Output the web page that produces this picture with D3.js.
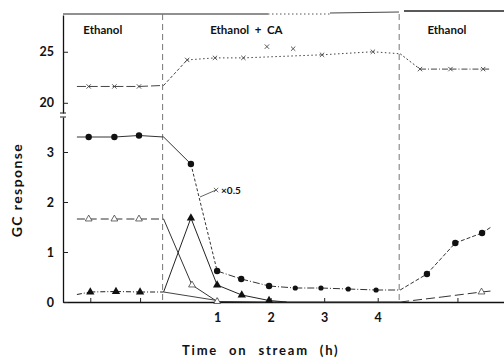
<!DOCTYPE html>
<html>
<head>
<meta charset="utf-8">
<script src="https://cdn.jsdelivr.net/npm/d3@7"></script>
<style>
  body { margin: 0; background: #fff; }
  svg { display: block; }
  .tick text { font-family: Lato, "Liberation Sans", sans-serif; font-size: 12.5px; font-weight: bold; }
  .lbl { font-family: Lato, "Liberation Sans", sans-serif; font-weight: bold; fill: #111; white-space: pre; }
</style>
</head>
<body>
<div id="chart"></div>
<script>
// phase change times (dashed lines), h
var switchT = [0, 4.42];
var phaseNames = ["Ethanol", "Ethanol  +  CA", "Ethanol"];
var phaseLabelT = [-1.5, 0.87, 4.93];

// upper series (x marks), read on the 20-25 part of the axis
var upperT = [-1.62, -1.40, -0.92, -0.46, 0, 0.44, 0.96, 1.49, 2.96, 3.91, 4.42, 4.79, 5.36, 5.97, 6.12];
var upperV = [21.6, 21.6, 21.6, 21.6, 21.7, 24.2, 24.4, 24.4, 24.7, 25.0, 24.8, 23.3, 23.3, 23.3, 23.3];
var upperMarks = [1, 2, 3, 5, 6, 7, 8, 9, 11, 12, 13];
var upperExtraT = [1.93, 2.42];
var upperExtraV = [25.5, 25.3];

// filled circles
var circleT = [-1.62, -1.40, -0.92, -0.46, 0, 0.51, 1.0, 1.45, 1.97, 2.46, 2.94, 3.45, 3.97, 4.42, 4.92, 5.45, 5.95, 6.12];
var circleV = [3.3, 3.3, 3.3, 3.33, 3.3, 2.76, 0.62, 0.46, 0.32, 0.28, 0.28, 0.26, 0.24, 0.24, 0.56, 1.18, 1.38, 1.5];
var circleMarks = [1, 2, 3, 5, 6, 7, 8, 9, 10, 11, 12, 14, 15, 16];

// open triangles
var openTriT = [-1.62, -1.40, -0.92, -0.46, 0, 0.53, 1.0, 2.0, 4.42, 5.2, 5.94, 6.12];
var openTriV = [1.66, 1.66, 1.66, 1.66, 1.66, 0.34, 0.01, 0, 0, 0.1, 0.2, 0.22];
var openTriMarks = [1, 2, 3, 5, 6, 10];

// filled triangles
var fillTriT = [-1.62, -1.37, -0.89, -0.44, 0, 0.51, 1.0, 1.46, 1.97, 2.3];
var fillTriV = [0.15, 0.2, 0.21, 0.2, 0.2, 1.68, 0.34, 0.14, 0.03, 0];
var fillTriMarks = [1, 2, 3, 5, 6, 7, 8];

// faint drift line under the triangles
var driftT = [0, 1.0];
var driftV = [0.2, 0.03];

// "x0.5" note
var noteT = [0.68, 0.98];
var noteV = [2.1, 2.24];

var xTicks = [1, 2, 3, 4];
var xMinorTicks = [-1.37, -0.44, 5.49];
var yLowTicks = [0, 1, 2, 3];
var yHighTicks = [20, 25];

var svgWidth = 504, svgHeight = 361;

var svg = d3.select("#chart").append("svg")
  .attr("width", svgWidth)
  .attr("height", svgHeight);

var x = d3.scaleLinear().domain([-1.88, 6.36]).range([63, 504]);
var yLow = d3.scaleLinear().domain([0, 3.7]).range([302, 117]);
var yHigh = d3.scaleLinear().domain([19, 28.6]).range([113, 15]);

function pts(T, V) { return T.map(function(t, i) { return [t, V[i]]; }); }

// frame top
svg.append("line").attr("x1", 63).attr("x2", 268).attr("y1", 14).attr("y2", 14)
  .attr("stroke", "#222").attr("stroke-width", 1.2);
svg.append("line").attr("x1", 268).attr("x2", 330).attr("y1", 14).attr("y2", 14)
  .attr("stroke", "#555").attr("stroke-width", 1).attr("stroke-dasharray", "1.5,2.5");
svg.append("line").attr("x1", 330).attr("x2", 399).attr("y1", 13).attr("y2", 12)
  .attr("stroke", "#444").attr("stroke-width", 1);
svg.append("line").attr("x1", 404).attr("x2", 504).attr("y1", 11).attr("y2", 11)
  .attr("stroke", "#222").attr("stroke-width", 1.4);

// dashed phase lines
svg.selectAll(".phase").data(switchT).enter().append("line")
  .attr("x1", d => x(d) - 1).attr("x2", d => x(d) - 1)
  .attr("y1", 14).attr("y2", 302)
  .attr("stroke", "#777").attr("stroke-width", 1)
  .attr("stroke-dasharray", "6,4");

// axes
var xAxis = d3.axisBottom(x)
  .tickValues(xTicks.concat(xMinorTicks))
  .tickFormat(d => xTicks.indexOf(d) >= 0 ? String(d) : "")
  .tickSizeInner(-4).tickSizeOuter(0).tickPadding(11);
var gx = svg.append("g").attr("transform", "translate(0,302)").call(xAxis);
gx.select(".domain").attr("stroke", "#111").attr("stroke-width", 1.4);

var yAxisLow = d3.axisLeft(yLow).tickValues(yLowTicks).tickFormat(d3.format("d"))
  .tickSizeInner(-5).tickSizeOuter(0).tickPadding(9);
var gyl = svg.append("g").attr("transform", "translate(63,0)").call(yAxisLow);
var yAxisHigh = d3.axisLeft(yHigh).tickValues(yHighTicks).tickFormat(d3.format("d"))
  .tickSizeInner(-5).tickSizeOuter(0).tickPadding(9);
var gyh = svg.append("g").attr("transform", "translate(63,0)").call(yAxisHigh);
gyl.select(".domain").attr("stroke", "#111").attr("stroke-width", 1.3);
gyh.select(".domain").attr("stroke", "#111").attr("stroke-width", 1.3);
svg.selectAll(".tick line").attr("stroke", "#222");
svg.selectAll(".tick text").attr("fill", "#111");

// break marks
svg.append("line").attr("x1", 60).attr("x2", 66).attr("y1", 113).attr("y2", 113).attr("stroke", "#222");
svg.append("line").attr("x1", 60).attr("x2", 66).attr("y1", 117).attr("y2", 117).attr("stroke", "#222");

// line drawing, one segment at a time so each part can get its own dash
function drawSeries(P, y, dashFor, color) {
  for (var i = 0; i < P.length - 1; i++) {
    svg.append("line")
      .attr("x1", x(P[i][0])).attr("y1", y(P[i][1]))
      .attr("x2", x(P[i + 1][0])).attr("y2", y(P[i + 1][1]))
      .attr("stroke", color).attr("stroke-width", 1)
      .attr("stroke-dasharray", dashFor(i, P[i][0]));
  }
}

var upper = pts(upperT, upperV);
drawSeries(upper, yHigh, function(i, t) {
  if (t < 0) return "9,3";
  if (t < 0.4) return "3,2";
  if (t < 4.4) return "1.5,2.5";
  if (t < 4.7) return "2,2";
  return "6,2,1,2";
}, "#444");

var circ = pts(circleT, circleV);
drawSeries(circ, yLow, function(i, t) {
  if (t < 0.5) return null;
  if (t < 0.9) return "3,2";
  if (t < 4.4) return "7,2,1,2";
  return "4,2";
}, "#333");

var otri = pts(openTriT, openTriV);
drawSeries(otri, yLow, function(i, t) {
  if (t < 0) return "8,4";
  if (t < 4.4) return null;
  return "9,4";
}, "#333");

var ftri = pts(fillTriT, fillTriV);
drawSeries(ftri, yLow, function(i, t) {
  if (t < 0) return "5,2,1,2";
  return null;
}, "#222");

drawSeries(pts(driftT, driftV), yLow, function() { return null; }, "#444");

// note "x0.5"
drawSeries(pts(noteT, noteV), yLow, function() { return null; }, "#666");

// markers
var cross = d3.symbol().type(d3.symbolX).size(14);
svg.selectAll(".upm").data(upperMarks.map(i => upper[i]).concat(pts(upperExtraT, upperExtraV)))
  .enter().append("path")
  .attr("d", cross)
  .attr("transform", d => `translate(${x(d[0])},${yHigh(d[1])})`)
  .attr("fill", "none").attr("stroke", "#444").attr("stroke-width", 0.9);

svg.append("path").attr("d", cross)
  .attr("transform", `translate(${x(noteT[1])},${yLow(noteV[1])})`)
  .attr("fill", "none").attr("stroke", "#555").attr("stroke-width", 0.9);
svg.append("text").attr("class", "lbl")
  .attr("x", x(noteT[1]) + 5).attr("y", yLow(noteV[1]) + 4)
  .attr("font-size", 10).attr("font-weight", "normal").attr("fill", "#888")
  .text("\u00d70.5");

svg.selectAll(".cm").data(circleMarks.map(i => circ[i]))
  .enter().append("circle")
  .attr("cx", d => x(d[0])).attr("cy", d => yLow(d[1]))
  .attr("r", d => d[0] > 2.2 && d[0] < 4.4 ? 2.6 : 3.2)
  .attr("fill", "#111");

var tri = d3.symbol().type(d3.symbolTriangle);
svg.selectAll(".ftm").data(fillTriMarks.map(i => ftri[i]))
  .enter().append("path")
  .attr("d", tri.size(30))
  .attr("transform", d => `translate(${x(d[0])},${yLow(d[1])})`)
  .attr("fill", "#111");

svg.selectAll(".otm").data(openTriMarks.map(i => otri[i]))
  .enter().append("path")
  .attr("d", d3.symbol().type(d3.symbolTriangle).size(20))
  .attr("transform", d => `translate(${x(d[0])},${yLow(d[1])})`)
  .attr("fill", "#fff").attr("stroke", "#444").attr("stroke-width", 0.8);

// phase labels
svg.selectAll(".ph").data(phaseNames).enter().append("text")
  .attr("class", "lbl")
  .attr("x", (d, i) => x(phaseLabelT[i]))
  .attr("y", 34)
  .attr("font-size", 11.5)
  .text(d => d);

// axis titles
svg.append("text").attr("class", "lbl")
  .attr("x", 182).attr("y", 355)
  .attr("font-size", 13)
  .attr("letter-spacing", 1.8)
  .attr("word-spacing", 6)
  .text("Time on stream (h)");

svg.append("text").attr("class", "lbl")
  .attr("transform", "translate(22,190) rotate(-90)")
  .attr("text-anchor", "middle")
  .attr("font-size", 14)
  .attr("letter-spacing", 1.4)
  .text("GC response");
</script>
</body>
</html>
